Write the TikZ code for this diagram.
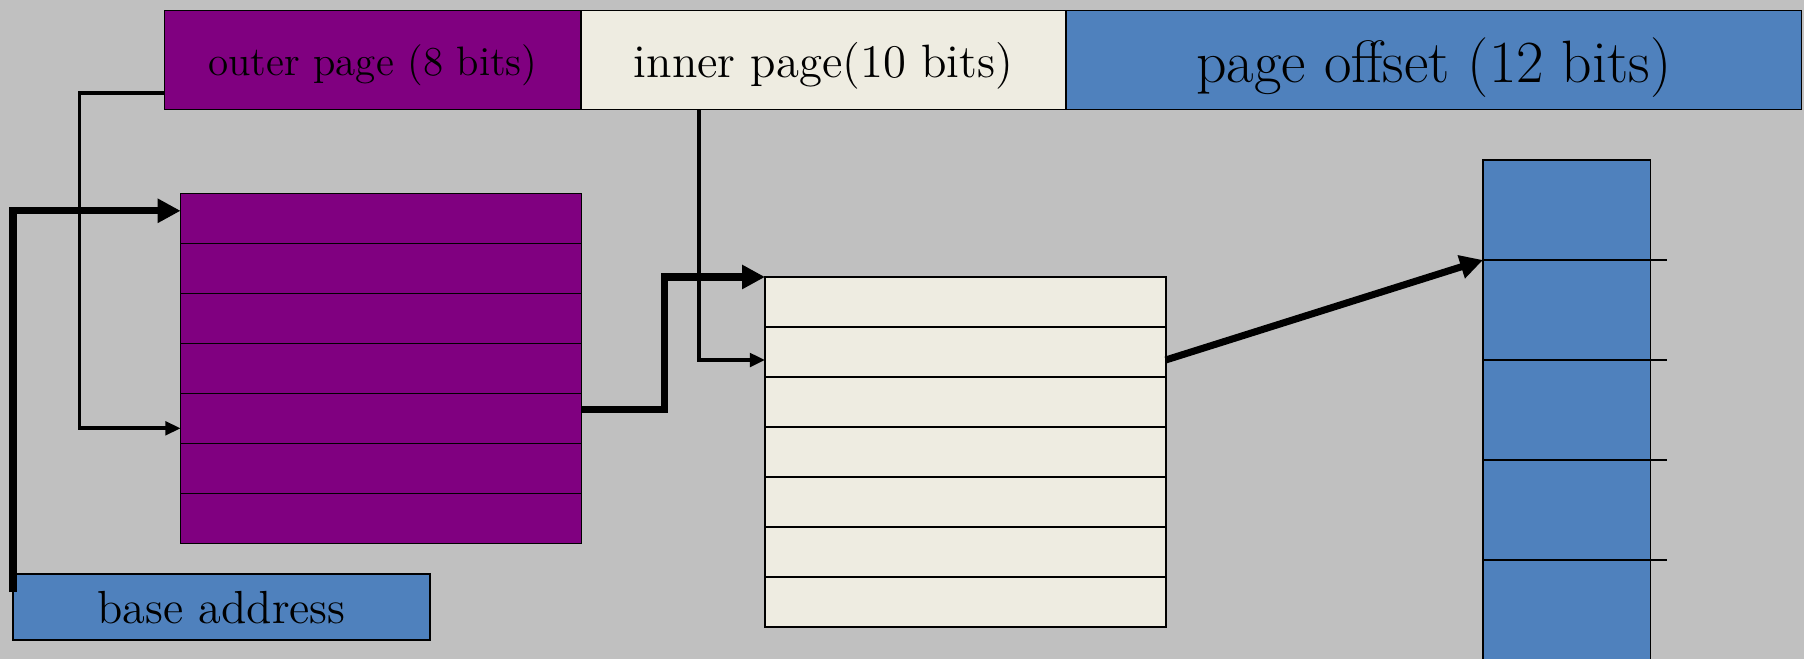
\documentclass[tikz,border=0pt]{standalone}
\usepackage{tikz}
\usetikzlibrary{arrows.meta, positioning, calc}

\definecolor{slidegray}{RGB}{192,192,192}
\definecolor{outerpurple}{RGB}{128,0,128}
\definecolor{innercream}{RGB}{238,236,225}
\definecolor{offsetblue}{RGB}{79,129,189}

\begin{document}
\begin{tikzpicture}[
    x=0.01cm, y=-0.01cm,
    field/.style      = {rectangle, draw, line width=0.5pt, outer sep=0pt,
                         inner sep=0pt, text depth=0pt,
                         minimum height=0.99cm, anchor=north west},
    orow/.style       = {rectangle, draw, line width=0.35pt, fill=outerpurple,
                         outer sep=0pt, inner sep=0pt, minimum width=4.004cm,
                         minimum height=0.5cm, anchor=north west},
    irow/.style       = {orow, fill=innercream, line width=0.6pt},
    prow/.style       = {orow, fill=offsetblue, minimum width=1.67cm,
                         minimum height=1cm},
    thinarrow/.style  = {-{Triangle[length=4.3pt, width=3.8pt]}, line width=1.1pt},
    thickarrow/.style = {-{Triangle[length=6.5pt, width=6.5pt]}, line width=2pt}
]

\useasboundingbox (0,0) rectangle (1804,659);
\clip (0,0) rectangle (1804,659);
\fill[slidegray] (0,0) rectangle (1804,659);

% ========= logical address =========
\node[field, fill=outerpurple, minimum width=4.165cm,
      font=\fontsize{11.7}{14}\selectfont]                 (outer)  at (164.5,10.4) {outer page (8 bits)};
\node[field, fill=innercream, minimum width=4.844cm,
      font=\fontsize{13.3}{16}\selectfont, right=0pt of outer] (inner)  {inner page(10 bits)};
\node[field, fill=offsetblue, minimum width=7.352cm,
      font=\fontsize{17}{20}\selectfont, right=0pt of inner]  (offset) {page offset (12 bits)};

% ========= tables =========
\foreach \i in {0,...,6}
  \node[orow] (o\i) at (180.6, {193.3+50*\i}) {};
\foreach \i in {0,...,6}
  \node[irow] (i\i) at (765, {277+50*\i}) {};
\foreach \i in {0,...,4}
  \node[prow] (p\i) at (1483, {160+100*\i}) {};
\foreach \i in {1,...,4}
  \draw[line width=0.35pt] (p\i.north east) -- ++(17,0);

\node[field, fill=offsetblue, minimum width=4.17cm, minimum height=0.66cm,
      font=\fontsize{13.2}{16}\selectfont] (base) at (13,574) {base address};

% ========= connectors =========
\draw[thinarrow]  ([yshift=-0.333cm]outer.west) -- ++(-85,0) |- ([yshift=-0.1cm]o4.west);
\draw[thickarrow] ([yshift=-0.18cm]base.north west) |- ([yshift=0.075cm]o0.west);
\draw[thinarrow]  ([xshift=1.174cm]inner.south west) |- ([yshift=-0.08cm]i1.west);
\draw[thickarrow] ([yshift=0.084cm]o4.east) -- ++(83,0) |- (i0.north west);
\draw[thickarrow] ([yshift=-0.08cm]i1.east) -- (p1.north west);

\end{tikzpicture}
\end{document}
